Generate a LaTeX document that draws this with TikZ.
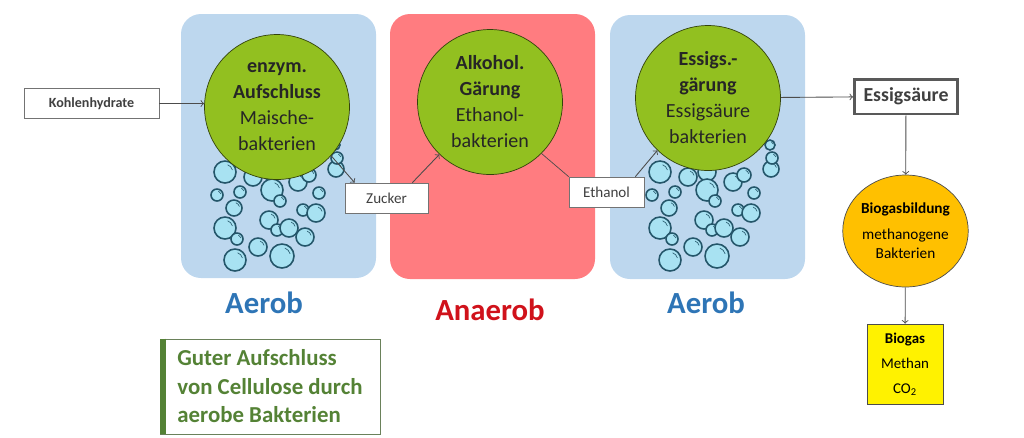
\documentclass[tikz,border=0pt]{standalone}
\usepackage{fontspec}
\setmainfont{Carlito}
\usetikzlibrary{shapes.geometric,calc}
\definecolor{aerobblue}{HTML}{BDD7EE}
\definecolor{anaerobred}{HTML}{FF7C80}
\definecolor{bactgreen}{HTML}{92C020}
\definecolor{bubblefill}{HTML}{A8E2F2}
\definecolor{bubbleline}{HTML}{24566A}
\definecolor{labelblue}{HTML}{2E75B6}
\definecolor{labelred}{HTML}{D0121B}
\definecolor{notegreen}{HTML}{548235}
\definecolor{gasorange}{HTML}{FFC000}
\tikzset{
  zone/.style={rounded corners=0.4cm},
  bact/.style={circle,draw=bactgreen!35!black,fill=bactgreen,minimum size=2.9cm,inner sep=0pt,
    align=center,text=black!85,font=\fontsize{11.4}{14.8}\selectfont},
  tag/.style={draw=black!55,fill=white,minimum height=0.6cm,inner sep=0pt,text=black!75},
  flow/.style={->,draw=black!70,line width=0.5pt},
  bubble/.style={draw=bubbleline,fill=bubblefill,line width=0.9pt},
  shine/.style={draw=bubbleline,line width=0.35pt},
  zonelabel/.style={font=\fontsize{17.5}{20}\selectfont\bfseries}
}
\begin{document}
\begin{tikzpicture}[x=0.02cm,y=-0.02cm]
\useasboundingbox (0,0) rectangle (1024,437);
% zones
\fill[zone,aerobblue] (181,14) rectangle (376,278);
\fill[zone,anaerobred] (390,14) rectangle (595,279);
\fill[zone,aerobblue] (610,15) rectangle (805,279);

% bubbles, same pattern in both aerob zones
\foreach \dx in {0,435}
  \foreach \bx/\by/\br in {225/172/11, 253/177/9, 272/172/9, 272/190/11, 280/201/6, 298/182/9,
      309/175/7, 336/169/8, 337/158/6, 335/145/5, 217/195/6, 240/192/6, 234/208/8, 319/193/6,
      303/210/6, 316/213/9, 225/228/11, 237/239/6, 269/220/9, 277/230/6, 289/228/9,
      305/237/9, 258/247/9, 235/260/11, 282/256/12}{
    \draw[bubble] (\bx+\dx,\by) circle ({\br*0.02cm});
    \draw[shine] (\bx+\dx,\by) ++(15:{\br*0.014cm}) arc[start angle=15,end angle=70,radius={\br*0.014cm}];
  }

% bacteria
\node[bact] (enzym) at (277,107) {\textbf{enzym.}\\\textbf{Aufschluss}\\Maische-\\bakterien};
\node[bact] (alkohol) at (490,102) {\textbf{Alkohol.}\\\textbf{Gärung}\\Ethanol-\\bakterien};
\node[bact] (essig) at (708,98) {\textbf{Essigs.-}\\\textbf{gärung}\\Essigsäure\\bakterien};

% products
\node[tag,minimum width=2.7cm,font=\fontsize{8}{9}\selectfont\bfseries] (kohlen) at (91.5,103.5) {Kohlenhydrate};
\node[tag,minimum width=1.66cm,font=\fontsize{8.6}{10}\selectfont] (zucker) at (386.5,198) {Zucker};
\node[tag,minimum width=1.5cm,font=\fontsize{8.6}{10}\selectfont] (ethanol) at (606.5,192) {Ethanol};
\node[tag,draw=black!65,line width=1.7pt,minimum width=2.06cm,minimum height=0.7cm,
  font=\fontsize{11.3}{13}\selectfont\bfseries] (saeure) at (906,96.5) {Essigsäure};
\node[ellipse,draw=black!70,fill=gasorange,minimum width=2.42cm,minimum height=2.24cm,inner sep=0pt,
  align=center,font=\fontsize{8.7}{11}\selectfont] (bildung) at (905.5,231)
  {\textbf{Biogasbildung}\\[0.12cm]methanogene\\Bakterien};
\node[draw=black!70,fill=yellow,minimum width=1.52cm,minimum height=1.6cm,align=center,
  font=\fontsize{8.5}{14.2}\selectfont] (biogas) at (905,364) {\textbf{Biogas}\\Methan\\CO\textsubscript{2}};

\draw[flow] (kohlen) -- (kohlen -| enzym.west);
\draw[flow] (enzym.-42) -- ($(zucker.north west)+(10,0)$);
\draw[flow] ($(zucker.north east)+(-16,0)$) -- (alkohol.-134);
\draw[draw=black!70] (alkohol.-45) -- (ethanol.north west);
\draw[flow] ($(ethanol.north east)+(-9,0)$) -- (essig.-134);
\draw[flow] (essig) -- (saeure);
\draw[flow] (saeure) -- (bildung);
\draw[flow] (bildung) -- (biogas);

% zone labels
\node[zonelabel,text=labelblue] (aerobA) at (264,303) {Aerob};
\node[zonelabel,text=labelred] (anaerob) at (490,310) {Anaerob};
\node[zonelabel,text=labelblue] (aerobB) at (706,303) {Aerob};

\node[draw=notegreen!50!gray,fill=white,minimum width=4.4cm,minimum height=1.9cm,align=left,
  font=\fontsize{13}{16.2}\selectfont\bfseries,text=notegreen] (note) at (270,386.5)
  {Guter Aufschluss\\von Cellulose durch\\aerobe Bakterien};
\draw[notegreen,line width=0.12cm] ($(note.north west)+(3,0)$) -- ($(note.south west)+(3,0)$);
\end{tikzpicture}
\end{document}
